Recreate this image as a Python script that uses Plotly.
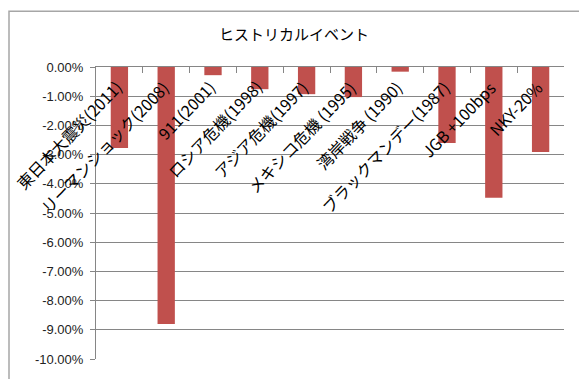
import plotly.graph_objects as go

categories = ["東日本大震災(2011)", "リーマンショック(2008)", "911(2001)", "ロシア危機(1998)",
              "アジア危機(1997)", "メキシコ危機 (1995)", "湾岸戦争 (1990)", "ブラックマンデー(1987)",
              "JGB +100bps", "NKY-20%"]
values = [-2.77, -8.80, -0.28, -0.76, -0.93, -1.03, -0.16, -2.60, -4.48, -2.91]
y_ticks = [0, -1, -2, -3, -4, -5, -6, -7, -8, -9, -10]
y_labels = [f"{v:.2f}%" for v in y_ticks]
title = "ヒストリカルイベント"

W, H = 579, 379
L, R, T, B = 96, 15, 67, 14
pw, ph = W - L - R, H - T - B

fig = go.Figure()
fig.add_trace(go.Bar(x=categories, y=values, marker=dict(color="#C0504D", line=dict(width=0)),
                     width=0.37))

for c in categories:
    fig.add_annotation(x=c, y=0, xref="x", yref="y", text=c, showarrow=False,
                       textangle=-46, xanchor="right", yanchor="top",
                       xshift=10, yshift=-6,
                       font=dict(family="Noto Sans CJK JP", size=16, color="#000000"))

# outer chart border (top and left visible)
fig.add_shape(type="rect", xref="paper", yref="paper",
              x0=(9 - L) / pw, x1=(W + 20 - L) / pw,
              y0=-(B + 20) / ph, y1=1 + (T - 10) / ph,
              line=dict(color="#A6A6A6", width=1.5), fillcolor="rgba(0,0,0,0)", layer="below")

fig.update_layout(
    width=W, height=H,
    margin=dict(l=L, r=R, t=T, b=B),
    paper_bgcolor="white", plot_bgcolor="white",
    showlegend=False,
    title=dict(text=title, x=294 / W, xanchor="center", y=1 - 35 / H, yanchor="middle",
               yref="container", font=dict(family="Noto Sans CJK JP", size=15, color="#000000")),
    xaxis=dict(side="top", range=[-0.5, len(categories) - 0.5], autorange=False,
               showline=True, linecolor="#868686", linewidth=1,
               ticks="inside", ticklen=6, tickcolor="#868686", tickson="boundaries",
               showticklabels=False, showgrid=False, zeroline=False, fixedrange=True),
    yaxis=dict(range=[-10, 0], autorange=False, tickvals=y_ticks, ticktext=y_labels,
               showline=True, linecolor="#868686", linewidth=1,
               ticks="outside", ticklen=5, tickcolor="#868686",
               showgrid=True, gridcolor="#868686", gridwidth=1, zeroline=False,
               tickfont=dict(family="Liberation Sans", size=13, color="#222222"),
               ticklabelstandoff=4),
)

fig.write_html("out.html")
